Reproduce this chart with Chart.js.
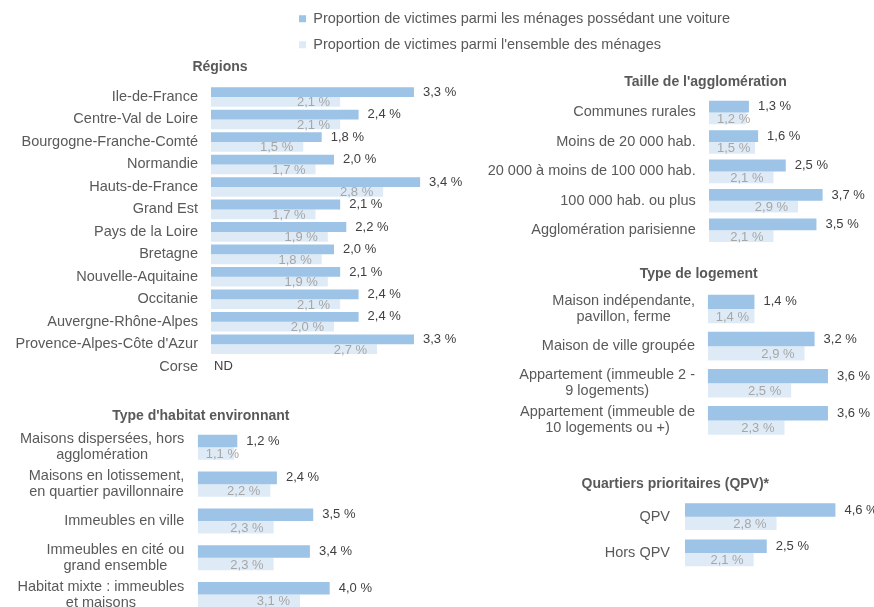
<!DOCTYPE html>
<html lang="fr">
<head>
<meta charset="utf-8">
<title>Proportion de victimes - ménages possédant une voiture</title>
<script src="https://cdn.jsdelivr.net/npm/chart.js@4.4.0/dist/chart.umd.min.js"></script>
<style>
html, body { margin:0; padding:0; background:#fff; overflow:hidden; width:874px; height:607px; }
canvas { position:absolute; }
</style>
</head>
<body>
<canvas id="legende" width="874" height="200" style="left:0;top:0"></canvas>
<canvas id="regions"></canvas>
<canvas id="taille"></canvas>
<canvas id="logement"></canvas>
<canvas id="habitat"></canvas>
<canvas id="qpv"></canvas>
<script>
var seriesNames = ["Proportion de victimes parmi les ménages possédant une voiture", "Proportion de victimes parmi l'ensemble des ménages"];

var regionsLabels = ["Ile-de-France", "Centre-Val de Loire", "Bourgogne-Franche-Comté", "Normandie", "Hauts-de-France", "Grand Est", "Pays de la Loire", "Bretagne", "Nouvelle-Aquitaine", "Occitanie", "Auvergne-Rhône-Alpes", "Provence-Alpes-Côte d'Azur", "Corse"];
var regionsVoiture = [3.3, 2.4, 1.8, 2.0, 3.4, 2.1, 2.2, 2.0, 2.1, 2.4, 2.4, 3.3, null];
var regionsEnsemble = [2.1, 2.1, 1.5, 1.7, 2.8, 1.7, 1.9, 1.8, 1.9, 2.1, 2.0, 2.7, null];

var tailleLabels = ["Communes rurales", "Moins de 20 000 hab.", "20 000 à moins de 100 000 hab.", "100 000 hab. ou plus", "Agglomération parisienne"];
var tailleVoiture = [1.3, 1.6, 2.5, 3.7, 3.5];
var tailleEnsemble = [1.2, 1.5, 2.1, 2.9, 2.1];

var logementLabels = [["Maison indépendante,", "pavillon, ferme"], "Maison de ville groupée", ["Appartement (immeuble 2 -", "9 logements)"], ["Appartement (immeuble de", "10 logements ou +)"]];
var logementVoiture = [1.4, 3.2, 3.6, 3.6];
var logementEnsemble = [1.4, 2.9, 2.5, 2.3];

var habitatLabels = [["Maisons dispersées, hors", "agglomération"], ["Maisons en lotissement,", "en quartier pavillonnaire"], "Immeubles en ville", ["Immeubles en cité ou", "grand ensemble"], ["Habitat mixte : immeubles", "et maisons"]];
var habitatVoiture = [1.2, 2.4, 3.5, 3.4, 4.0];
var habitatEnsemble = [1.1, 2.2, 2.3, 2.3, 3.1];

var qpvLabels = ["QPV", "Hors QPV"];
var qpvVoiture = [4.6, 2.5];
var qpvEnsemble = [2.8, 2.1];

var COL_DARK = "#9DC3E6";
var COL_LIGHT = "#DEEBF7";
var FONT = "'Liberation Sans', Arial, sans-serif";

function fmt(v){ return v.toFixed(1).replace('.', ',') + ' %'; }

// libellés des catégories + valeurs
var etiquettes = {
	id: 'etiquettes',
	afterDatasetsDraw: function(chart){
		var ctx = chart.ctx, area = chart.chartArea, yScale = chart.scales.y;
		var o = chart.options.plugins.etiquettes;
		ctx.save();
		ctx.textBaseline = 'middle';

		ctx.font = '14.5px ' + FONT;
		ctx.fillStyle = '#595959';
		ctx.textAlign = 'center';
		chart.data.labels.forEach(function(lab, i){
			var lines = Array.isArray(lab) ? lab : [lab];
			var w = 0;
			lines.forEach(function(l){ w = Math.max(w, ctx.measureText(l).width); });
			var cx = area.left - o.gap - w / 2;
			var cy = yScale.getPixelForValue(i);
			lines.forEach(function(l, k){
				ctx.fillText(l, cx, cy + (k - (lines.length - 1) / 2) * 16);
			});
		});

		ctx.font = '13px ' + FONT;
		var m0 = chart.getDatasetMeta(0), m1 = chart.getDatasetMeta(1);
		chart.data.datasets[0].data.forEach(function(v, i){
			ctx.fillStyle = '#404040';
			ctx.textAlign = 'left';
			if (v === null) {
				ctx.fillText('ND', area.left + 3, yScale.getPixelForValue(i));
				return;
			}
			var b = m0.data[i];
			ctx.fillText(fmt(v), b.x + 9, b.y);
		});
		chart.data.datasets[1].data.forEach(function(v, i){
			if (v === null) { return; }
			var b = m1.data[i];
			var t = fmt(v), w = ctx.measureText(t).width;
			var right = Math.max(b.x - 10, b.base + 8 + w);
			ctx.fillStyle = '#A6A6A6';
			ctx.textAlign = 'right';
			ctx.fillText(t, right, b.y + 1);
		});
		ctx.restore();
	}
};

function panneau(id, p, titre, labels, voiture, ensemble){
	var cv = document.getElementById(id);
	var cr = p.left + p.width - p.padR;
	var padL = 2 * p.titleCx - cr - p.left;
	var axisW = p.barStart - p.left - padL;
	var padTop = p.titleCy - p.top - 8.4;
	var padBottom = p.areaTop - p.top - padTop - 16.8;
	cv.width = p.width;
	cv.height = Math.round(p.areaBottom - p.top);
	cv.style.left = p.left + 'px';
	cv.style.top = p.top + 'px';

	new Chart(cv, {
		type: 'bar',
		data: {
			labels: labels,
			datasets: [
				{ label: seriesNames[0], data: voiture, backgroundColor: COL_DARK },
				{ label: seriesNames[1], data: ensemble, backgroundColor: COL_LIGHT }
			]
		},
		options: {
			indexAxis: 'y',
			responsive: false,
			animation: false,
			layout: { padding: { left: padL, right: p.padR, top: 0, bottom: 0 } },
			datasets: { bar: { categoryPercentage: p.cp, barPercentage: 1 } },
			scales: {
				x: { display: false, min: 0, max: (cr - p.barStart) / p.pxPct },
				y: {
					grid: { display: false, drawTicks: false },
					border: { display: false },
					ticks: { display: false },
					afterFit: function(s){ s.width = axisW; }
				}
			},
			plugins: {
				legend: { display: false },
				tooltip: { enabled: false },
				title: {
					display: true, text: titre, color: '#595959',
					font: { family: FONT, size: 14, weight: 'bold', lineHeight: 1.2 },
					padding: { top: padTop, bottom: padBottom }
				},
				etiquettes: { gap: p.gap }
			}
		},
		plugins: [etiquettes]
	});
}

new Chart(document.getElementById('legende'), {
	type: 'bar',
	data: {
		labels: [],
		datasets: [
			{ label: seriesNames[0], data: [], backgroundColor: COL_DARK },
			{ label: seriesNames[1], data: [], backgroundColor: COL_LIGHT }
		]
	},
	options: {
		responsive: false,
		animation: false,
		layout: { padding: { left: 287.5 } },
		scales: { x: { display: false }, y: { display: false } },
		plugins: {
			tooltip: { enabled: false },
			legend: {
				display: true, position: 'top', align: 'start',
				labels: { boxWidth: 7, boxHeight: 7, padding: 11.5, color: '#595959', font: { family: FONT, size: 14.5 } }
			}
		}
	}
});

panneau('regions', { left: 0, width: 480, padR: 40, top: 52, barStart: 211, pxPct: 61.5, titleCx: 220, titleCy: 67.3, areaTop: 85.75, areaBottom: 378.25, cp: 0.87, gap: 13 },
	"Régions", regionsLabels, regionsVoiture, regionsEnsemble);
panneau('taille', { left: 440, width: 434, padR: 30, top: 66, barStart: 709, pxPct: 30.7, titleCx: 705.5, titleCy: 81.7, areaTop: 97.75, areaBottom: 245.25, cp: 0.8, gap: 13.3 },
	"Taille de l'agglomération", tailleLabels, tailleVoiture, tailleEnsemble);
panneau('logement', { left: 440, width: 434, padR: 30, top: 258, barStart: 707.7, pxPct: 33.4, titleCx: 698.7, titleCy: 274, areaTop: 290.4, areaBottom: 439.3, cp: 0.77, gap: 12.7 },
	"Type de logement", logementLabels, logementVoiture, logementEnsemble);
panneau('habitat', { left: 0, width: 440, padR: 38.4, top: 400, barStart: 197.7, pxPct: 33, titleCx: 200.8, titleCy: 416, areaTop: 428.9, areaBottom: 613.1, cp: 0.68, gap: 13.4 },
	"Type d'habitat environnant", habitatLabels, habitatVoiture, habitatEnsemble);
panneau('qpv', { left: 440, width: 434, padR: 30, top: 468, barStart: 685, pxPct: 32.7, titleCx: 675.3, titleCy: 484, areaTop: 498.55, areaBottom: 571.15, cp: 0.735, gap: 15 },
	"Quartiers prioritaires (QPV)*", qpvLabels, qpvVoiture, qpvEnsemble);
</script>
</body>
</html>
